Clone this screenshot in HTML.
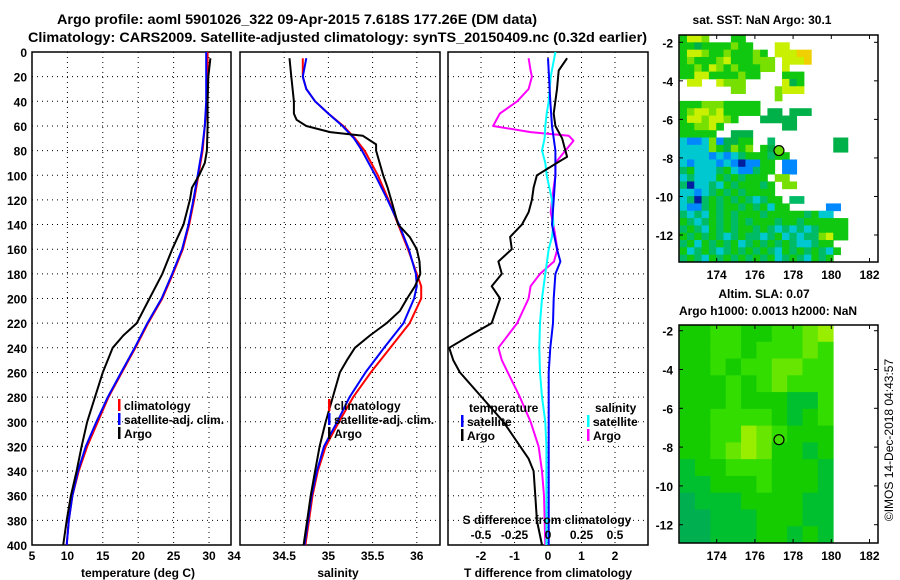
<!DOCTYPE html>
<html><head><meta charset="utf-8"><style>
html,body{margin:0;padding:0;background:#fff}
svg{display:block}
text{font-family:"Liberation Sans",sans-serif;font-weight:bold;fill:#000}
</style></head><body>
<svg id="fig" width="900" height="580" viewBox="0 0 900 580" xmlns="http://www.w3.org/2000/svg">
<text x="57" y="24" font-size="14" textLength="480" lengthAdjust="spacingAndGlyphs">Argo profile: aoml 5901026_322 09-Apr-2015 7.618S 177.26E (DM data)</text>
<text x="28" y="42" font-size="14" textLength="619" lengthAdjust="spacingAndGlyphs">Climatology: CARS2009. Satellite-adjusted climatology: synTS_20150409.nc (0.32d earlier)</text>
<g id="g1"></g>
<g id="g2"></g>
<g id="g3"></g>
<g id="m1"></g>
<g id="m2"></g>
<text x="762" y="24" font-size="12" text-anchor="middle">sat. SST: NaN Argo: 30.1</text>
<text x="764" y="298" font-size="12" text-anchor="middle">Altim. SLA: 0.07</text>
<text x="768" y="315" font-size="12" text-anchor="middle">Argo h1000: 0.0013 h2000: NaN</text>
<text transform="translate(893,440) rotate(-90)" font-size="12" text-anchor="middle" style="font-weight:normal">©IMOS 14-Dec-2018 04:43:57</text>
</svg>
<script>
// ---- data ----
const depthTicks = [0,20,40,60,80,100,120,140,160,180,200,220,240,260,280,300,320,340,360,380,400];
const tempTicks = [5,10,15,20,25,30];
const salTicks = [34,34.5,35,35.5,36];
const tdiffTicks = [-2,-1,0,1,2];
const sdiffTickVals = [-0.5,-0.25,0,0.25,0.5];
const sdiffTickLabels = ["-0.5","-0.25","0","0.25","0.5"];

const climDepths = [0,20,40,60,80,100,120,140,160,180,200,220,240,260,280,300,320,340,360,380,400];
const climTemp = [29.8,29.8,29.7,29.4,29.1,28.5,27.9,27.2,26.3,24.9,23.4,21.4,19.6,17.7,15.8,14.3,12.8,11.6,10.7,10.2,9.9];
const satTemp  = [29.6,29.6,29.6,29.4,29.0,28.4,27.8,27.1,26.2,24.8,23.3,21.3,19.5,17.6,15.7,14.1,12.6,11.5,10.7,10.2,9.9];
const argoTDepths = [5,20,40,60,80,90,100,110,120,140,160,180,200,220,230,240,260,280,300,320,340,360,380,400];
const argoTemp = [30.2,29.9,29.8,29.8,29.7,29.4,28.6,27.6,27.3,26.4,24.8,23.4,21.6,19.8,17.9,16.4,15.0,13.9,12.8,12.0,11.3,10.5,9.9,9.4];

const salDepths = [5,20,30,40,50,60,70,80,100,120,140,160,180,190,200,220,240,260,280,300,320,340,360,380,400];
const climSal = [34.71,34.71,34.75,34.85,35.0,35.17,35.30,35.41,35.56,35.68,35.79,35.90,36.0,36.05,36.05,35.92,35.70,35.48,35.28,35.12,34.97,34.88,34.82,34.78,34.74];
const satSal  = [34.75,34.71,34.75,34.85,35.0,35.16,35.29,35.38,35.53,35.67,35.80,35.91,35.99,36.0,35.97,35.85,35.63,35.42,35.24,35.10,34.95,34.87,34.81,34.77,34.73];
const argoSDepths = [5,20,40,50,55,60,65,68,75,80,100,110,120,140,150,160,170,180,190,200,210,220,230,240,250,260,280,300,320,340,360,380,400];
const argoSal = [34.56,34.58,34.61,34.61,34.64,34.75,35.02,35.39,35.54,35.54,35.62,35.67,35.71,35.79,35.92,36.0,36.03,36.04,35.98,35.89,35.81,35.66,35.47,35.30,35.21,35.13,35.05,34.97,34.90,34.85,34.80,34.76,34.72];

const argoTdDepths = [5,15,30,50,60,70,80,85,90,100,110,120,130,140,150,160,170,180,190,200,220,230,240,250,260,280,300,320,330,340,360,380,400];
const argoTdiff = [0.57,0.32,0.27,0.17,0.22,0.42,0.52,0.57,0.27,-0.33,-0.43,-0.48,-0.58,-0.78,-1.13,-1.08,-1.48,-1.38,-1.68,-1.43,-1.68,-2.33,-2.95,-2.83,-2.63,-1.98,-1.33,-0.83,-0.58,-0.43,-0.38,-0.33,-0.18];
const satTdDepths = [5,20,40,60,80,100,120,140,160,170,180,200,220,240,260,300,400];
const satTdiff = [0,0.03,0.07,0.12,0.22,0.22,0.17,0.12,0.27,0.37,0.22,0.17,0.15,0.07,0.02,0.02,0.02];
const satSdDepths = [0,20,40,50,60,70,80,90,100,120,140,150,160,180,200,220,240,260,280,300,320,360,400];
const satSdiff = [0.055,0.02,0.005,-0.01,-0.02,-0.025,-0.045,-0.02,-0.01,0.03,0.04,0.03,0.005,-0.02,-0.045,-0.06,-0.065,-0.06,-0.045,-0.02,-0.012,-0.012,-0.012];
const argoSdDepths = [5,15,20,30,40,50,60,65,68,72,80,90,100,120,130,140,150,160,170,180,190,200,220,240,250,260,280,300,320,340,360,400];
const argoSdiff = [-0.145,-0.13,-0.12,-0.145,-0.23,-0.36,-0.41,-0.13,0.155,0.19,0.13,0.055,0.055,0.03,0.02,0.04,0.055,0.07,0.045,-0.06,-0.13,-0.145,-0.23,-0.37,-0.345,-0.3,-0.21,-0.13,-0.07,-0.045,-0.03,-0.02];

const lonTicks = [174,176,178,180,182];
const latTicks = [-2,-4,-6,-8,-10,-12];
const argoLon = 177.26, argoLat = -7.618;
const sstGrid = [
"gyyl...gg",
"ggGgggglgg...yy",
"gyylgglggglg.yyyoo",
"glggglyggglll.yyyo",
"gglgylglgggll.y",
"ggyygggglgg...ggg",
".yy..ylll.....yGg",
".......ll....lyyy",
".............l",
"ggglllggggg",
"glyylyggggg.GG.GGG",
"gyylyylg...GGGGG",
"ggllyg........GG",
"ggggg..GGG",
"cbbclbGGgg..t........GG",
"cccclgGlgl.gG........GG",
"ccccbcbctgggtgg",
"cbcccbcbBbbgg.bb",
"tgccctgcbbtgg.bb",
"ctcccgtgtggg.ll",
"tBcctcgtgggtg.ll",
"ccbctgtgtgggg",
"ctBtgtgtgtctgg.tt",
"cbbtgtggtgtgcgg.....bb",
"tctcgtgtgggtgggggtgcc",
"gtctgtgtgtgggtggtgggggg",
"tgtcgtgtggtgtctctctgggg",
"gtgtgtctgttctgctcttlygg",
"tgcgtgtgctgtgtgtcctgg",
"gctgtctgtgtgtcgtgtgtcg",
"tgtcgtgtgtgtgctgtcgtg"];
const slaGrid = [
"ggmmggmmlL",
"ggmmgmmmlm",
"ggmgmmllmm",
"gggmgmlmmm",
"gggmgggddm",
"ggmmmmgdgm",
"ggmmLlmggg",
"ggmlLlggdg",
"dggmmmgggd",
"ddgggmgggd",
"tdddggggdd",
"ttdddgggdd",
"ttdddggdgd"];
</script>
<script>
const NS="http://www.w3.org/2000/svg";
function mk(parent,tag,attrs){const e=document.createElementNS(NS,tag);for(const k in attrs)e.setAttribute(k,attrs[k]);parent.appendChild(e);return e;}
const TOP=52,BOT=545;
const yD=d=>TOP+(BOT-TOP)*d/400;
function panel(g,x0,x1,vticks,xs,name){
  for(const d of depthTicks){ if(d===0||d===400)continue;
    const l=mk(g,'line',{x1:x0,x2:x1,y1:yD(d),y2:yD(d),stroke:'#000','stroke-width':1,'stroke-dasharray':'1,4'});
    
    }
  for(const v of vticks){const x=xs(v); if(x<=x0+1||x>=x1-1)continue;
    const l=mk(g,'line',{x1:x,x2:x,y1:TOP,y2:BOT,stroke:'#000','stroke-width':1,'stroke-dasharray':'1,4'});
    
    }
  const r=mk(g,'rect',{x:x0,y:TOP,width:x1-x0,height:BOT-TOP,fill:'none',stroke:'#000','stroke-width':1.5});
  
  
}
function line(g,xs,vals,deps,color,name,w){
  const pts=vals.map((v,i)=>xs(v).toFixed(1)+','+yD(deps[i]).toFixed(1)).join(' ');
  const p=mk(g,'polyline',{points:pts,fill:'none',stroke:color,'stroke-width':w||2,'stroke-linejoin':'round'});
  
  
}
function txt(g,x,y,s,size,anchor,name){const t=mk(g,'text',{x:x,y:y,'font-size':size,'text-anchor':anchor||'start'});t.textContent=s;
  
  return t;}
function legend(g,x,y,items,name){items.forEach((it,i)=>{
  const r=mk(g,'rect',{x:x,y:y+i*14-11,width:2.5,height:12,fill:it[1]});
  
  
  txt(g,x+6,y+i*14,it[0],12,'start',name+'-label');});}

// Panel 1 temperature
const g1=document.getElementById('g1');
const xT=v=>32+(v-5)*177/25;
panel(g1,32,231,tempTicks,xT,'temp');
line(g1,xT,climTemp,climDepths,'#ff0000','clim-temp-line');
line(g1,xT,satTemp,climDepths,'#0000ff','sat-temp-line');
line(g1,xT,argoTemp,argoTDepths,'#000','argo-temp-line');
for(const d of depthTicks)txt(g1,27,yD(d)+5,String(d),12,'end','depth-tick-label');
for(const v of tempTicks)txt(g1,xT(v),560,String(v),12,'middle','temp-tick-label');
txt(g1,234,560,'34',12,'middle','sal-tick-label');
txt(g1,138,577,'temperature (deg C)',12,'middle','temp-axis-title');
legend(g1,118,410,[['climatology','#f00'],['satellite-adj. clim.','#00f'],['Argo','#000']],'temp-legend');

// Panel 2 salinity
const g2=document.getElementById('g2');
const xS=v=>240+(v-34)*88.4;
panel(g2,240,440,salTicks,xS,'sal');
line(g2,xS,climSal,salDepths,'#ff0000','clim-sal-line');
line(g2,xS,satSal,salDepths,'#0000ff','sat-sal-line');
line(g2,xS,argoSal,argoSDepths,'#000','argo-sal-line');
for(const v of salTicks.slice(1))txt(g2,xS(v),560,String(v),12,'middle','sal-tick-label');
txt(g2,338,577,'salinity',12,'middle','sal-axis-title');
legend(g2,328,410,[['climatology','#f00'],['satellite-adj. clim.','#00f'],['Argo','#000']],'sal-legend');

// Panel 3 differences
const g3=document.getElementById('g3');
const xTd=v=>548+v*33.5;
const xSd=v=>548+v*134;
panel(g3,448,648,tdiffTicks,xTd,'diff');
line(g3,xSd,argoSdiff,argoSdDepths,'#ff00ff','argo-sal-diff-line');
line(g3,xSd,satSdiff,satSdDepths,'#00ffff','sat-sal-diff-line');
line(g3,xTd,satTdiff,satTdDepths,'#0000ff','sat-temp-diff-line');
line(g3,xTd,argoTdiff,argoTdDepths,'#000','argo-temp-diff-line');
for(const v of tdiffTicks)txt(g3,xTd(v),560,String(v),12,'middle','tdiff-tick-label');
txt(g3,548,577,'T difference from climatology',12,'middle','tdiff-axis-title');
sdiffTickVals.forEach((v,i)=>txt(g3,xSd(v),539,sdiffTickLabels[i],12,'middle','sdiff-tick-label'));
txt(g3,547,524,'S difference from climatology',12,'middle','sdiff-axis-title');
txt(g3,469,412,'temperature',12,'start','diff-legend-temp-heading');
legend(g3,461,426,[['satellite','#00f'],['Argo','#000']],'diff-legend-temp');
txt(g3,595,412,'salinity',12,'start','diff-legend-sal-heading');
legend(g3,587,426,[['satellite','#0ff'],['Argo','#f0f']],'diff-legend-sal');

// Maps
const sstCol={g:'#11c811',G:'#00b048',l:'#77e000',y:'#c8f000',o:'#f0d000',c:'#00c8d0',b:'#0088ff',B:'#0020a0',t:'#00bb66'};
const slaCol={g:'#14cc00',m:'#33dd00',l:'#66e600',L:'#99ee00',d:'#00c030',t:'#00b050'};
function map(g,top,bot,lat2y,degLat,grid,cols,ncol,lonEnd,name,markerFill){
  const x0=679,x1=878;
  const lonX=v=>716.7+(v-174)*19.1;
  const latY=v=>lat2y+(-2-v)*degLat;
  const lonStart=172.06, latTop=-2+(lat2y-top)/degLat;
  const dLon=(lonEnd-lonStart)/ncol;
  const nrow=grid.length; const dLat=(latTop-(-2-(bot-lat2y)/degLat))/nrow;
  grid.forEach((row,r)=>{for(let c=0;c<row.length;c++){const ch=row[c];if(!cols[ch])continue;
    const xa=lonX(lonStart+c*dLon), xb=lonX(lonStart+(c+1)*dLon);
    const ya=latY(latTop-r*dLat), yb=latY(latTop-(r+1)*dLat);
    const cell=mk(g,'rect',{x:xa.toFixed(2),y:ya.toFixed(2),width:(xb-xa+0.4).toFixed(2),height:(Math.min(yb,bot)-ya+0.4).toFixed(2),fill:cols[ch]});
    
    }});
  const m=mk(g,'circle',{cx:lonX(argoLon),cy:latY(argoLat),r:5,fill:markerFill,stroke:'#000','stroke-width':1.2});
  
  
  const fr=mk(g,'rect',{x:x0,y:top,width:x1-x0,height:bot-top,fill:'none',stroke:'#000','stroke-width':1.5});
  
  
  for(const v of lonTicks){const x=lonX(v);
    const a=mk(g,'line',{x1:x,x2:x,y1:top,y2:top+4,stroke:'#000'});
    
    
    const b=mk(g,'line',{x1:x,x2:x,y1:bot,y2:bot-4,stroke:'#000'});
    
    
    txt(g,x,bot+17,String(v),12,'middle',name+'-lon-label');}
  for(const v of latTicks){const y=latY(v);
    const a=mk(g,'line',{x1:x0,x2:x0+4,y1:y,y2:y,stroke:'#000'});
    
    
    const b=mk(g,'line',{x1:x1,x2:x1-4,y1:y,y2:y,stroke:'#000'});
    
    
    txt(g,673,y+5,String(v),12,'end',name+'-lat-label');}
}
map(document.getElementById('m1'),35,262,42.3,19.27,sstGrid,sstCol,27,182.4,'sst-map','#66dd00');
map(document.getElementById('m2'),325,543,330.7,19.4,slaGrid,slaCol,10,180.1,'sla-map','#44dd00');
</script>
</body></html>
